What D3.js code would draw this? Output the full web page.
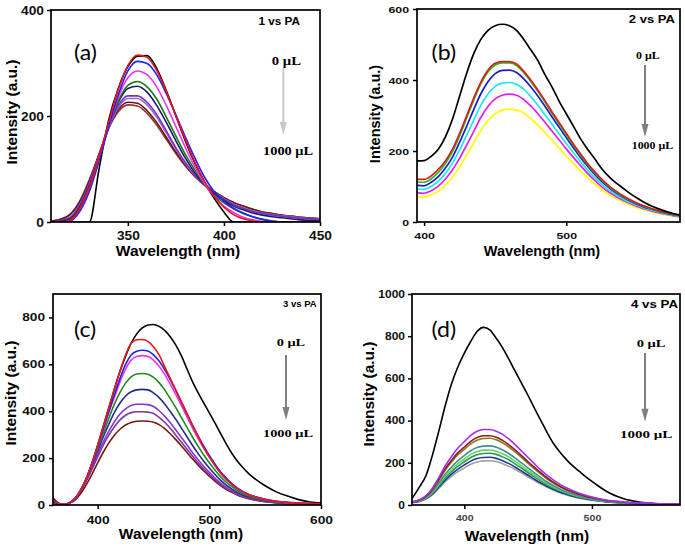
<!DOCTYPE html>
<html><head><meta charset="utf-8">
<script src="https://cdn.jsdelivr.net/npm/d3@7"></script>
<style>body{margin:0;background:#fff}svg{display:block}</style>
</head><body>
<svg id="chart" width="685" height="551"></svg>
<script>
// ---------- Panel (a): 1 vs PA ----------
const A_WL = [310,315,320,325,330,335,340,345,350,355,360,365,370,375,380,385,390,395,400,405,410,415,420,425,430,440,450];
const A_black   = [0,0,0,0,0,100,192,252,293,313,314,290,248,200,152,110,74,44,19,0,0,0,0,0,0,0,0];
const A_red     = [0,0,3,25,65,122,188,250,295,315,311,286,246,200,155,112,76,48,28,14,6,2,0,0,0,0,0];
const A_blue    = [0,0,2,20,58,115,180,240,285,303,299,278,242,202,160,120,84,57,39,26,17,10,5,2,0,0,0];
const A_magenta = [0,0,2,22,62,118,180,235,272,285,278,255,220,180,140,103,72,48,30,18,9,4,1,0,0,0,0];
const A_green   = [0,0,4,25,65,120,180,228,258,265,255,232,198,162,127,97,70,50,36,25,16,10,5,2,0,0,0];
const A_navy    = [0,1,6,28,68,122,182,226,252,256,245,220,188,153,120,92,70,53,40,30,23,17,13,10,8,4,2];
const A_purple  = [0,2,8,32,72,125,180,220,238,238,226,203,172,140,112,88,70,55,43,33,26,20,16,13,11,7,5];
const A_violet  = [0,2,9,33,73,125,178,216,233,233,221,198,168,138,110,87,70,56,44,34,27,21,17,14,12,8,5];
const A_maroon  = [2,5,14,38,78,128,178,212,226,224,210,188,160,132,107,86,70,57,46,37,30,24,19,16,13,9,6];
const A_brown   = [2,5,15,40,80,128,176,208,221,219,205,183,156,129,105,85,69,57,46,37,30,24,19,16,13,9,6];
const A_xTicks = [350,400,450];
const A_yTicks = [0,200,400];

// ---------- Panel (b): 2 vs PA ----------
const B_WL = [395,400,405,410,415,420,425,430,435,440,445,450,455,460,465,470,475,480,485,490,495,500,505,510,515,520,525,530,535,540,545,550,555,560,565,570,575,580];
const B_black   = [172,173,185,205,240,290,355,420,475,515,540,553,557,553,540,515,485,455,415,380,340,305,270,235,205,178,150,128,110,95,80,67,55,45,37,30,24,20];
const B_red     = [120,120,130,148,172,205,250,300,350,395,428,447,452,452,445,425,400,372,342,310,280,250,220,192,165,142,120,102,87,74,63,53,45,38,32,27,23,19];
const B_green   = [112,112,122,140,165,198,243,294,344,390,423,442,448,448,441,421,396,368,338,306,276,246,216,188,162,139,118,100,85,72,61,52,44,37,31,26,22,18];
const B_blue    = [103,102,112,128,152,183,225,270,318,362,396,418,427,428,421,404,381,355,326,296,267,238,209,182,157,134,114,97,82,70,59,50,42,36,30,25,21,17];
const B_cyan    = [93,92,100,115,137,166,203,245,288,329,361,382,391,393,388,374,353,329,302,275,248,221,195,170,146,125,106,90,77,65,55,47,39,33,28,23,19,16];
const B_magenta = [82,81,88,101,121,147,180,217,256,295,326,347,357,360,357,345,327,305,281,256,231,206,182,159,137,117,99,84,72,61,52,44,37,31,26,22,18,15];
const B_yellow  = [70,70,76,87,104,127,156,189,224,258,286,305,315,318,316,307,292,273,252,230,208,186,165,144,125,107,91,77,66,56,48,40,34,29,24,20,17,14];
const B_xTicks = [400,500];
const B_yTicks = [0,200,400,600];

// ---------- Panel (c): 3 vs PA ----------
const C_WL = [360,365,370,375,380,385,390,395,400,405,410,415,420,425,430,435,440,445,450,455,460,465,470,475,480,485,490,495,500,505,510,515,520,525,530,535,540,550,560,570,580,590,600];
const C_black   = [30,8,2,10,30,65,115,180,255,335,415,495,570,635,690,730,755,768,770,762,745,718,682,636,580,525,478,435,393,350,305,262,222,188,160,135,115,82,56,38,23,13,8];
const C_red     = [25,6,2,10,30,65,115,180,255,335,415,495,570,640,690,705,706,698,675,640,590,540,490,440,390,340,292,245,205,168,136,110,88,70,56,45,36,24,16,11,8,6,5];
const C_blue    = [15,5,2,10,30,65,115,178,250,325,400,470,540,600,640,656,660,657,640,614,578,535,488,439,389,340,294,251,211,175,142,116,92,73,58,46,37,24,16,11,8,6,5];
const C_magenta = [12,5,2,10,30,65,114,176,248,320,395,460,525,580,618,633,637,634,618,592,557,516,471,424,376,328,283,242,204,169,137,111,89,70,56,45,36,23,15,10,8,6,4];
const C_green   = [10,4,2,10,29,63,112,175,240,305,370,430,480,520,547,559,561,558,544,522,491,454,415,373,331,289,250,213,180,149,121,98,79,62,49,39,31,20,13,9,7,5,4];
const C_navy    = [10,4,2,9,28,62,110,170,230,290,345,395,435,465,483,491,493,491,478,458,431,399,365,328,291,254,219,187,158,131,106,86,69,54,43,35,28,18,12,8,6,4,3];
const C_purple  = [10,4,2,9,27,62,108,160,215,268,315,355,388,410,424,430,430,428,420,402,379,351,320,288,256,223,193,165,139,115,94,76,61,48,38,31,25,16,11,7,5,4,3];
const C_violet  = [8,3,2,9,26,60,104,153,205,255,298,334,363,383,394,398,398,396,390,374,353,327,298,268,238,208,180,154,130,108,88,71,57,45,36,29,23,15,10,7,5,4,3];
const C_maroon  = [8,3,2,8,22,50,88,132,180,225,265,298,323,341,352,357,358,357,353,343,326,304,279,252,224,196,170,145,123,102,83,67,54,43,34,27,22,14,9,6,5,4,3];
const C_xTicks = [400,500,600];
const C_yTicks = [0,200,400,600,800];

// ---------- Panel (d): 4 vs PA ----------
const D_WL = [359,365,370,375,380,385,390,395,400,405,410,415,420,425,430,435,440,445,450,455,460,465,470,475,480,485,490,495,500,505,510,515,520,525,530,535,540,550,560,569];
const D_black   = [30,87,140,236,350,470,575,655,720,775,822,842,830,790,745,690,632,575,518,458,400,342,290,250,215,185,160,135,112,90,70,53,40,30,22,16,12,7,5,4];
const D_violet  = [15,25,45,80,130,185,230,270,300,330,350,358,358,350,335,312,285,255,225,195,165,140,118,98,82,68,56,46,38,31,25,20,17,14,12,10,9,6,4,3];
const D_maroon  = [14,24,42,75,122,172,212,248,275,302,320,328,328,321,306,285,260,233,205,178,152,128,107,89,74,62,51,42,35,29,23,19,16,13,11,9,8,6,4,3];
const D_olive   = [14,23,40,72,117,165,204,238,264,290,307,315,316,309,295,274,250,224,197,171,146,123,103,86,71,59,49,41,34,28,22,18,15,13,11,9,8,6,4,3];
const D_teal    = [13,21,36,64,104,146,180,210,234,257,272,279,280,274,261,243,222,198,175,152,130,109,91,76,63,52,43,36,30,25,20,17,14,12,10,8,7,5,4,3];
const D_lgreen  = [13,20,34,60,97,136,168,196,218,240,254,260,261,255,243,227,207,185,163,141,121,102,85,71,59,49,40,34,28,23,19,16,13,11,9,8,7,5,4,3];
const D_green   = [12,19,32,56,91,128,158,184,205,225,238,244,245,240,228,213,194,174,153,133,114,96,80,67,56,46,38,32,27,22,18,15,12,10,9,8,7,5,4,3];
const D_navy    = [12,18,30,52,85,118,146,170,190,208,220,225,226,221,210,196,179,160,141,122,104,88,73,61,51,42,35,29,24,20,16,13,11,9,8,7,6,5,4,3];
const D_gray    = [11,17,28,48,78,110,136,158,176,193,204,209,210,206,196,183,168,151,133,116,99,84,70,58,48,40,33,28,23,19,15,13,11,9,8,7,6,5,4,3];
const D_xTicks = [400,500];
const D_yTicks = [0,200,400,600,800,1000];

// ---------- Drawing ----------
const svg = d3.select("#chart");
const SANS = "'Liberation Sans', Arial, sans-serif";
const SERIF = "'Liberation Serif', 'Times New Roman', serif";

function label(txt, x, y, o) {
  svg.append("text")
    .attr("transform", `translate(${x},${y}) scale(${o.sx || 1},1)`)
    .attr("text-anchor", o.anchor || "start")
    .style("font-family", o.family || SANS)
    .style("font-size", o.size + "px")
    .style("font-weight", o.weight || "normal")
    .attr("fill", o.fill || "#000")
    .text(txt);
}
function arrow(x, y1, y2, color) {
  svg.append("line").attr("x1", x).attr("x2", x).attr("y1", y1).attr("y2", y2 - 11)
    .attr("stroke", color).attr("stroke-width", 2);
  svg.append("path").attr("d", `M${x - 3.5},${y2 - 13}L${x + 3.5},${y2 - 13}L${x},${y2}Z`).attr("fill", color);
}

function panel(c) {
  const x = d3.scaleLinear().domain(c.xDomain).range([c.left, c.right]);
  const y = d3.scaleLinear().domain(c.yDomain).range([c.bottom, c.top]);
  const clip = "clip" + c.id;
  svg.append("clipPath").attr("id", clip).append("rect")
    .attr("x", c.left).attr("y", c.top).attr("width", c.right - c.left).attr("height", c.bottom - c.top);
  const line = d3.line().x(d => x(d[0])).y(d => y(d[1])).curve(d3.curveMonotoneX);
  const g = svg.append("g").attr("clip-path", `url(#${clip})`);
  c.series.forEach(s => {
    g.append("path").attr("d", line(c.wl.map((w, i) => [w, s.v[i]])))
      .attr("fill", "none").attr("stroke", s.color).attr("stroke-width", c.lw)
      .attr("stroke-linejoin", "round");
  });
  const fmt = d3.format("d");
  const gx = svg.append("g").attr("transform", `translate(0,${c.bottom})`)
    .call(d3.axisBottom(x).tickValues(c.xTicks).tickFormat(fmt).tickSize(4).tickPadding(c.xPad).tickSizeOuter(0));
  const gy = svg.append("g").attr("transform", `translate(${c.left},0)`)
    .call(d3.axisLeft(y).tickValues(c.yTicks).tickFormat(fmt).tickSize(4).tickPadding(c.yPad).tickSizeOuter(0));
  [gx, gy].forEach(a => {
    a.select(".domain").remove();
    a.selectAll(".tick line").attr("stroke", "#000").attr("stroke-width", 1.5);
  });
  gx.selectAll("text").style("font-family", SANS).style("font-size", c.xFont + "px")
    .style("font-weight", "bold").attr("fill", c.xFill || "#111")
    .attr("transform", `scale(${c.xsx},1)`);
  gy.selectAll("text").style("font-family", SANS).style("font-size", c.yFont + "px")
    .style("font-weight", "bold").attr("fill", "#111")
    .attr("x", -(4 + c.yPad) / c.ysx).attr("transform", `scale(${c.ysx},1)`);
  svg.append("rect").attr("x", c.left).attr("y", c.top).attr("width", c.right - c.left)
    .attr("height", c.bottom - c.top).attr("fill", "none").attr("stroke", "#000").attr("stroke-width", 1.7);
  svg.append("text").attr("transform", `translate(${c.yt[0]},${c.yt[1]}) rotate(-90)`)
    .attr("text-anchor", "middle").style("font-family", SANS).style("font-size", c.ytSize + "px")
    .style("font-weight", "bold").text("Intensity (a.u.)");
  svg.append("text").attr("x", c.xt[0]).attr("y", c.xt[1])
    .attr("text-anchor", "middle").style("font-family", SANS).style("font-size", c.xtSize + "px")
    .style("font-weight", "bold").text("Wavelength (nm)");
}

panel({
  id: "a", wl: A_WL, xDomain: [310, 450], yDomain: [0, 400], left: 51, right: 320, top: 10, bottom: 222,
  xTicks: A_xTicks, yTicks: A_yTicks, xPad: 5, yPad: 3, xFont: 12.5, yFont: 12.5, xsx: 1.1, ysx: 1.1, lw: 1.6,
  yt: [17, 112], xt: [178, 256], ytSize: 15.5, xtSize: 15.5,
  series: [
    {v: A_black, color: "#000000"}, {v: A_brown, color: "#8b3a3a"}, {v: A_maroon, color: "#6e1414"},
    {v: A_violet, color: "#9966cc"}, {v: A_purple, color: "#7a2fc0"}, {v: A_navy, color: "#1a1a6e"},
    {v: A_green, color: "#157a15"}, {v: A_magenta, color: "#ee33ee"}, {v: A_blue, color: "#1f1fff"},
    {v: A_red, color: "#e8141c"}
  ]
});
panel({
  id: "b", wl: B_WL, xDomain: [395, 580], yDomain: [0, 600], left: 417, right: 680, top: 9, bottom: 222,
  xTicks: B_xTicks, yTicks: B_yTicks, xPad: 6, yPad: 4, xFont: 9.5, yFont: 9.5, xsx: 1.3, ysx: 1.3, lw: 1.7,
  yt: [380, 114], xt: [542, 256], ytSize: 14.5, xtSize: 14.5,
  series: [
    {v: B_yellow, color: "#ffff00"}, {v: B_magenta, color: "#e61ee6"}, {v: B_cyan, color: "#1ee6f0"},
    {v: B_blue, color: "#1c1cc8"}, {v: B_green, color: "#22c022"}, {v: B_red, color: "#e01a1a"},
    {v: B_black, color: "#000000"}
  ]
});
panel({
  id: "c", wl: C_WL, xDomain: [360, 600], yDomain: [0, 900], left: 53, right: 321, top: 294, bottom: 505,
  xTicks: C_xTicks, yTicks: C_yTicks, xPad: 7, yPad: 4, xFont: 11, yFont: 10.5, xsx: 1.25, ysx: 1.3, lw: 1.6,
  yt: [16, 393], xt: [181, 539], ytSize: 15.5, xtSize: 15.5,
  series: [
    {v: C_black, color: "#000000"}, {v: C_maroon, color: "#7a1515"}, {v: C_violet, color: "#7a3a9a"},
    {v: C_purple, color: "#8a33dd"}, {v: C_navy, color: "#1f2f7f"}, {v: C_green, color: "#1e8a1e"},
    {v: C_magenta, color: "#ee33ee"}, {v: C_blue, color: "#2323e0"}, {v: C_red, color: "#e8191c"}
  ]
});
panel({
  id: "d", wl: D_WL, xDomain: [359, 569], yDomain: [0, 1000], left: 412, right: 680, top: 294, bottom: 505,
  xTicks: D_xTicks, yTicks: D_yTicks, xPad: 6, yPad: 3, xFont: 8.5, yFont: 10, xsx: 1.25, ysx: 1.2, lw: 1.6,
  xFill: "#444", yt: [374, 394], xt: [527, 541], ytSize: 15.5, xtSize: 15.5,
  series: [
    {v: D_black, color: "#000000"}, {v: D_gray, color: "#a0a0a0"}, {v: D_navy, color: "#1f3a93"},
    {v: D_green, color: "#2e9b4f"}, {v: D_lgreen, color: "#66d066"}, {v: D_teal, color: "#3f9090"},
    {v: D_olive, color: "#8b7a22"}, {v: D_maroon, color: "#8b1c1c"}, {v: D_violet, color: "#9b30ff"}
  ]
});

const LATO = "Lato, 'Open Sans', sans-serif";
label("(a)", 74, 60, {family: LATO, size: 21, sx: 1.1});
label("(b)", 431.5, 60, {family: LATO, size: 21, sx: 1.1});
label("(c)", 74, 337, {family: LATO, size: 21, sx: 1.1});
label("(d)", 431.5, 337, {family: LATO, size: 21, sx: 1.1});

label("1 vs PA", 300, 25, {size: 10.5, weight: "bold", sx: 1.12, anchor: "end"});
label("2 vs PA", 675, 22.5, {size: 10.7, weight: "bold", sx: 1.22, anchor: "end"});
label("3 vs PA", 316.7, 306.5, {size: 8.5, weight: "bold", sx: 1.12, anchor: "end"});
label("4 vs PA", 678, 308.3, {size: 10.7, weight: "bold", sx: 1.24, anchor: "end"});

label("0 μL", 271.7, 65, {family: SERIF, size: 12.3, weight: "bold", sx: 1.2});
label("1000 μL", 263, 155, {family: SERIF, size: 12.3, weight: "bold", sx: 1.17});
arrow(283.3, 68, 135, "#c8c8c8");

label("0 μL", 636, 59.3, {family: SERIF, size: 9.5, weight: "bold", sx: 1.25});
label("1000 μL", 631.7, 149.3, {family: SERIF, size: 9.5, weight: "bold", sx: 1.25});
arrow(645, 65, 137, "#808080");

label("0 μL", 276.7, 346, {family: SERIF, size: 11.3, weight: "bold", sx: 1.27});
label("1000 μL", 263, 436.7, {family: SERIF, size: 11.3, weight: "bold", sx: 1.27});
arrow(286, 355, 420, "#808080");

label("0 μL", 636.7, 347, {family: SERIF, size: 10, weight: "bold", sx: 1.45});
label("1000 μL", 620, 438, {family: SERIF, size: 10, weight: "bold", sx: 1.5});
arrow(645, 353, 421.7, "#808080");
</script>
</body></html>
